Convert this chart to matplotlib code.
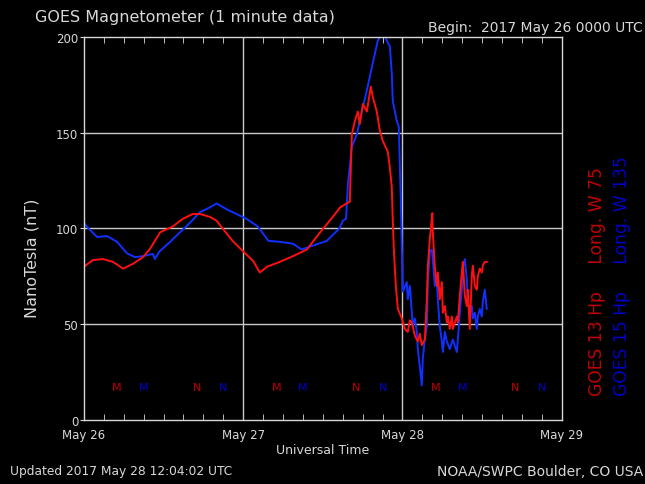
import numpy as np
import matplotlib.pyplot as plt
from matplotlib.ticker import MultipleLocator

# hours since 2017 May 26 00:00 UT, field in nT
g13_hours = [0, 1.4, 2.9, 4.4, 5.9, 7.4, 8.9, 9.9, 11.5, 13.4, 14.9, 16.4, 17.5,
             19.0, 20.0, 20.9, 22.4, 24.0, 25.5, 26.5, 27.6, 29.5, 31.5, 33.6,
             35.6, 37.5, 38.6, 40.07, 40.37, 40.82, 41.27, 41.57, 42.03, 42.63,
             43.23, 43.53, 44.13, 44.59, 45.04, 45.79, 46.09, 46.39, 46.54,
             46.7, 47.0, 47.3, 47.9, 48.35, 48.8, 49.11, 49.41, 49.86, 50.31,
             50.61, 50.91, 51.37, 51.67, 51.82, 52.12, 52.42, 52.5, 52.57,
             52.87, 53.17, 53.32, 53.62, 53.93, 54.08, 54.38, 54.68, 54.83,
             55.13, 55.43, 55.58, 55.88, 56.19, 56.34, 56.64, 56.94, 57.09,
             57.39, 57.69, 57.84, 58.14, 58.44, 58.6, 58.9, 59.2, 59.35, 59.65,
             59.95, 60.1, 60.4, 60.7]
g13_values = [80, 83.5, 84, 82.5, 79, 81.5, 85, 89, 98, 101, 105, 107.5, 107.5,
              106, 104, 100, 93.5, 88, 83, 77, 80, 82.5, 85.5, 89,
              98, 106, 111, 114, 149, 156, 161, 154.5, 165, 161,
              174, 168.5, 161, 151, 145.6, 140, 132, 121.6, 104,
              89, 70, 58, 53, 47.5, 46, 52, 51, 44, 41,
              45, 39, 42, 63, 80, 94.5, 105, 108, 98,
              80, 70, 77, 63, 72, 56, 59.5, 51, 54,
              47.5, 54, 47.5, 51, 54, 51, 65, 77, 82.5,
              65, 59.5, 68, 47.5, 75, 80.5, 70, 68, 75, 79,
              77, 80.5, 82.5, 82.5]

g15_hours = [0, 0.7, 2.0, 3.5, 5.0, 6.5, 7.7, 8.9, 10.4, 10.7, 11.4, 13.0, 14.5,
             16.0, 17.5, 19.0, 20.0, 21.5, 23.0, 24.5, 26.2, 27.8, 29.5, 31.5,
             32.8, 34.5, 36.6, 38.5, 39.01, 39.5, 39.77, 40.37, 41.12, 41.87,
             42.63, 43.38, 43.83, 44.28, 45.04, 45.64, 46.09, 46.39, 46.54,
             47.15, 47.45, 47.6, 47.75, 47.9, 48.05, 48.65, 48.8, 49.11, 49.41,
             49.56, 49.86, 50.16, 50.31, 50.61, 50.91, 51.06, 51.37, 51.67,
             51.82, 52.12, 52.42, 52.57, 52.87, 53.17, 53.32, 53.62, 53.93,
             54.08, 54.38, 54.68, 55.13, 55.58, 56.19, 56.34, 56.64, 56.94,
             57.09, 57.39, 57.69, 57.84, 58.14, 58.44, 58.6, 58.9, 59.2, 59.35,
             59.65, 59.95, 60.1, 60.4, 60.7]
g15_values = [103, 100, 95.5, 96, 93, 87, 85, 85.5, 86.7, 84, 88, 93, 98,
              103, 108.5, 111, 113, 110, 107.5, 105, 101, 93.5, 93, 92,
              89, 91, 93.5, 100, 104, 105, 123, 142.5, 149, 161,
              172, 184, 191, 198, 203, 198, 195, 181, 166.5,
              156, 153, 132, 115, 89, 67, 72, 63, 70, 56,
              49, 53, 46, 37, 28, 18, 32, 42, 49,
              72, 88, 89, 84, 70, 73.5, 63, 49, 41,
              35.5, 46, 41, 37, 42, 35.5, 42, 56, 68,
              79, 84, 73.5, 61.6, 56, 59.5, 53, 56, 47.5, 54,
              58, 54, 61.6, 68, 58]

# local midnight (M) and noon (N) markers, hours UT
g13_midnight = [5, 29, 53]
g15_midnight = [9, 33, 57]
g13_noon = [17, 41, 65]
g15_noon = [21, 45, 69]

day_labels = ["May 26", "May 27", "May 28", "May 29"]

red = "#ff1010"
blue = "#1030ff"
dark_red = "#c00000"
dark_blue = "#0000c8"
fg = "#d8d8d8"

fig = plt.figure(figsize=(6.45, 4.85), dpi=100, facecolor="black")
ax = fig.add_axes([0.130, 0.132, 0.741, 0.790])
ax.set_facecolor("black")

ax.plot(g15_hours, g15_values, color=blue, lw=1.4)
ax.plot(g13_hours, g13_values, color=red, lw=1.4)

for hrs, letter, col in [(g13_midnight, "M", dark_red), (g15_midnight, "M", dark_blue),
                         (g13_noon, "N", dark_red), (g15_noon, "N", dark_blue)]:
    for h in hrs:
        ax.text(h, 17, letter, color=col, ha="center", va="center", fontsize=8)

ax.set_xlim(0, 72)
ax.set_ylim(0, 200)
ax.set_xticks([0, 24, 48, 72])
ax.set_xticklabels(day_labels)
ax.xaxis.set_minor_locator(MultipleLocator(3))
ax.set_yticks([0, 50, 100, 150, 200])
ax.tick_params(axis="x", which="major", length=0, colors=fg, labelsize=8.5, pad=6)
ax.tick_params(axis="x", which="minor", direction="in", length=4, top=True,
               color=fg)
ax.tick_params(axis="y", length=3, colors=fg, labelsize=8.5, pad=1)
for s in ax.spines.values():
    s.set_color(fg)
    s.set_linewidth(1)

for h in [24, 48]:
    ax.axvline(h, color="#c8c8c8", lw=1, zorder=0)
for v in [50, 100, 150]:
    ax.axhline(v, color="#c8c8c8", lw=1, zorder=0)

ax.set_xlabel("Universal Time", color=fg, fontsize=9, labelpad=1)

fig.text(0.05, 0.468, "NanoTesla (nT)", color=fg, fontsize=11.5, rotation=90,
         ha="center", va="center")
fig.text(0.054, 0.963, "GOES Magnetometer (1 minute data)", color=fg,
         fontsize=11.5, ha="left", va="center")
fig.text(0.997, 0.942, "Begin:  2017 May 26 0000 UTC", color=fg, fontsize=10,
         ha="right", va="center")
fig.text(0.015, 0.027, "Updated 2017 May 28 12:04:02 UTC", color=fg,
         fontsize=8.8, ha="left", va="center")
fig.text(0.997, 0.027, "NOAA/SWPC Boulder, CO USA", color=fg, fontsize=10,
         ha="right", va="center")
fig.text(0.926, 0.183, "GOES 13 Hp     Long. W 75", color=dark_red, fontsize=12.3,
         rotation=90, ha="center", va="bottom")
fig.text(0.965, 0.183, "GOES 15 Hp     Long. W 135", color=dark_blue, fontsize=12.3,
         rotation=90, ha="center", va="bottom")

fig.savefig("out.png", dpi=100, facecolor="black")
